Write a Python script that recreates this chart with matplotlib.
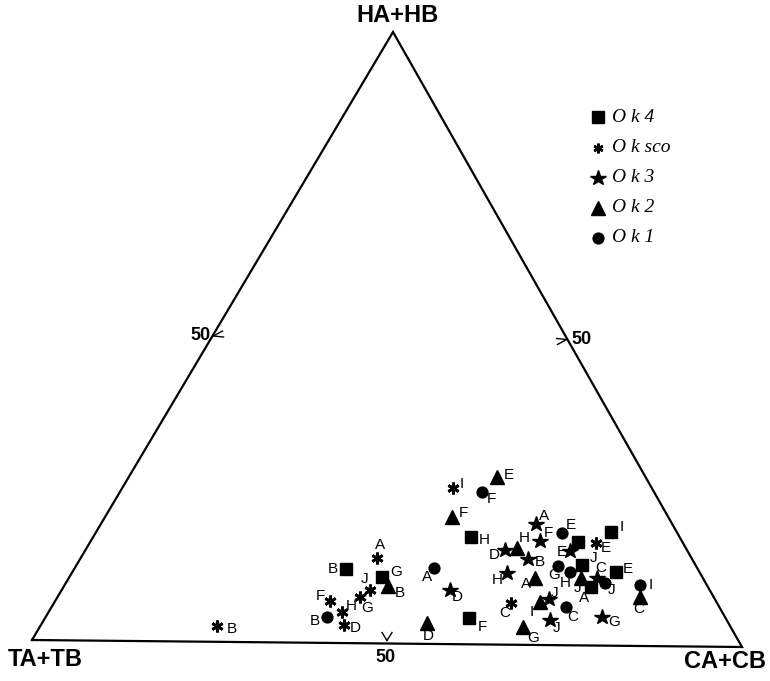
import matplotlib
matplotlib.use("Agg")
import matplotlib.pyplot as plt
import numpy as np

# Ternary compositions in percent: HA+HB (top), CA+CB (right); TA+TB = 100 - H - C
ok4_labels = ["B", "G", "H", "F", "I", "", "J", "E", "A"]
ok4_h = [12.1, 10.9, 17.6, 4.3, 18.6, 16.9, 13.2, 12.1, 9.6]
ok4_c = [38.1, 43.8, 52.9, 59.4, 72.1, 68.3, 70.8, 76.1, 73.9]

oksco_labels = ["A", "J", "G", "F", "H", "D", "I", "C", "E", "B"]
oksco_h = [14.0, 8.7, 7.6, 6.9, 5.1, 3.0, 25.5, 6.8, 16.8, 2.6]
oksco_c = [41.5, 43.2, 42.4, 38.4, 41.1, 42.4, 46.3, 64.0, 70.9, 24.7]

ok3_labels = ["A", "F", "D", "B", "H", "D", "J", "J", "E", "C", "G"]
ok3_h = [19.8, 17.0, 15.5, 14.0, 11.7, 8.9, 7.5, 4.1, 15.4, 11.1, 4.7]
ok3_c = [60.9, 62.9, 58.8, 62.7, 60.9, 54.4, 69.0, 70.9, 67.9, 74.0, 77.9]

ok2_labels = ["E", "F", "H", "A", "I", "D", "G", "B", "J", "C"]
ok2_h = [27.4, 20.8, 15.8, 11.0, 7.0, 3.4, 2.9, 9.4, 11.0, 8.0]
ok2_c = [51.6, 48.6, 60.3, 65.3, 68.0, 53.9, 67.7, 45.4, 71.7, 81.6]

ok1_labels = ["F", "A", "B", "E", "G", "H", "J", "I", "C"]
ok1_h = [24.9, 12.4, 4.2, 18.4, 13.0, 12.0, 10.2, 10.0, 6.3]
ok1_c = [50.7, 50.3, 39.4, 65.3, 67.5, 69.7, 75.5, 80.6, 72.0]

series_names = ["O k 4", "O k sco", "O k 3", "O k 2", "O k 1"]

# Label offsets (pixels) for each point, same order as the data above
ok4_off = [(-13, 0), (14, 5), (13, -3), (13, -9), (11, 5), (0, 0), (11, 7), (12, 3), (-7, -11)]
oksco_off = [(3, 13), (-6, 11), (7, -11), (-9, 5), (9, 6), (11, -3), (9, 4), (-6, -10), (10, -5), (15, -3)]
ok3_off = [(8, 8), (8, 8), (-11, -5), (12, -3), (-9, -7), (7, -7), (6, 6), (6, -8), (-8, -1), (3, 10), (12, -5)]
ok2_off = [(12, 2), (11, 4), (7, 10), (-9, -6), (-8, -10), (1, -13), (10, -11), (12, -7), (-3, -10), (-1, -12)]
ok1_off = [(10, -7), (-7, -9), (-12, -4), (9, 8), (-4, -9), (-5, -11), (7, -7), (10, 0), (7, -10)]

W, Hgt = 770, 681
fig = plt.figure(figsize=(W / 100, Hgt / 100), dpi=100)
ax = fig.add_axes([0, 0, 1, 1])
ax.set_xlim(0, W)
ax.set_ylim(Hgt, 0)
ax.axis("off")

# Triangle corners in canvas pixels
P_T = np.array([32.0, 640.0])
P_C = np.array([742.0, 647.0])
P_H = np.array([393.0, 32.0])


def to_xy(h, c):
    h = np.asarray(h) / 100.0
    c = np.asarray(c) / 100.0
    t = 1.0 - h - c
    x = t * P_T[0] + c * P_C[0] + h * P_H[0]
    y = t * P_T[1] + c * P_C[1] + h * P_H[1]
    return x, y


# Triangle outline
tri = np.array([P_T, P_C, P_H, P_T])
ax.plot(tri[:, 0], tri[:, 1], color="black", lw=1.6, solid_joinstyle="miter")

# 50% tick marks pointing into the triangle
def chevron(p, d1, d2):
    for d in (d1, d2):
        ax.plot([p[0], p[0] + d[0]], [p[1], p[1] + d[1]], color="black", lw=1.0)

mid_left = (P_T + P_H) / 2
mid_right = (P_C + P_H) / 2
mid_bot = (P_T + P_C) / 2
chevron(mid_left + np.array([1, 0]), (9, -5), (10, 1))
chevron(mid_right + np.array([-1, 0]), (-9, 5), (-10, -1))
chevron(mid_bot + np.array([0, -3]), (-5, -8), (5, -8))

bold = dict(family="Liberation Sans", fontweight="bold", color="black")
ax.text(mid_left[0] - 2, mid_left[1], "50", ha="right", va="center", fontsize=13, **bold)
ax.text(mid_right[0] + 4, mid_right[1], "50", ha="left", va="center", fontsize=13, **bold)
ax.text(mid_bot[0] - 1, mid_bot[1] + 14, "50", ha="center", va="center", fontsize=13, **bold)

ax.text(P_H[0] + 4, 16, "HA+HB", ha="center", va="center", fontsize=17, **bold)
ax.text(8, 660, "TA+TB", ha="left", va="center", fontsize=17, **bold)
ax.text(766, 661, "CA+CB", ha="right", va="center", fontsize=17, **bold)

styles = [
    dict(marker="s", ms=9.0),
    dict(marker=(6, 2, 0), ms=8.5, mew=2.0),
    dict(marker="*", ms=11.5),
    dict(marker="^", ms=9.5),
    dict(marker="o", ms=7.8),
]

data = [
    (ok4_h, ok4_c, ok4_labels, ok4_off),
    (oksco_h, oksco_c, oksco_labels, oksco_off),
    (ok3_h, ok3_c, ok3_labels, ok3_off),
    (ok2_h, ok2_c, ok2_labels, ok2_off),
    (ok1_h, ok1_c, ok1_labels, ok1_off),
]

for (hs, cs, labs, offs), st in zip(data, styles):
    x, y = to_xy(hs, cs)
    ax.plot(x, y, ls="none", color="black", mec="black", mfc="black", **st)
    for xi, yi, lab, (dx, dy) in zip(x, y, labs, offs):
        if lab:
            ax.text(xi + dx, yi - dy, lab, ha="center", va="center",
                    fontsize=11, family="Liberation Sans", color="black")

# Legend
leg_y = [117, 148, 178, 208, 238]
leg_styles = [dict(st) for st in styles]
leg_styles[1].update(ms=7.0, mew=1.8)
for yy, name, st in zip(leg_y, series_names, leg_styles):
    ax.plot([598], [yy], ls="none", color="black", mec="black", mfc="black", **st)
    ax.text(612, yy, name, ha="left", va="center", fontsize=14,
            family="Liberation Serif", style="italic", color="black")

fig.savefig("out.png", dpi=100)
